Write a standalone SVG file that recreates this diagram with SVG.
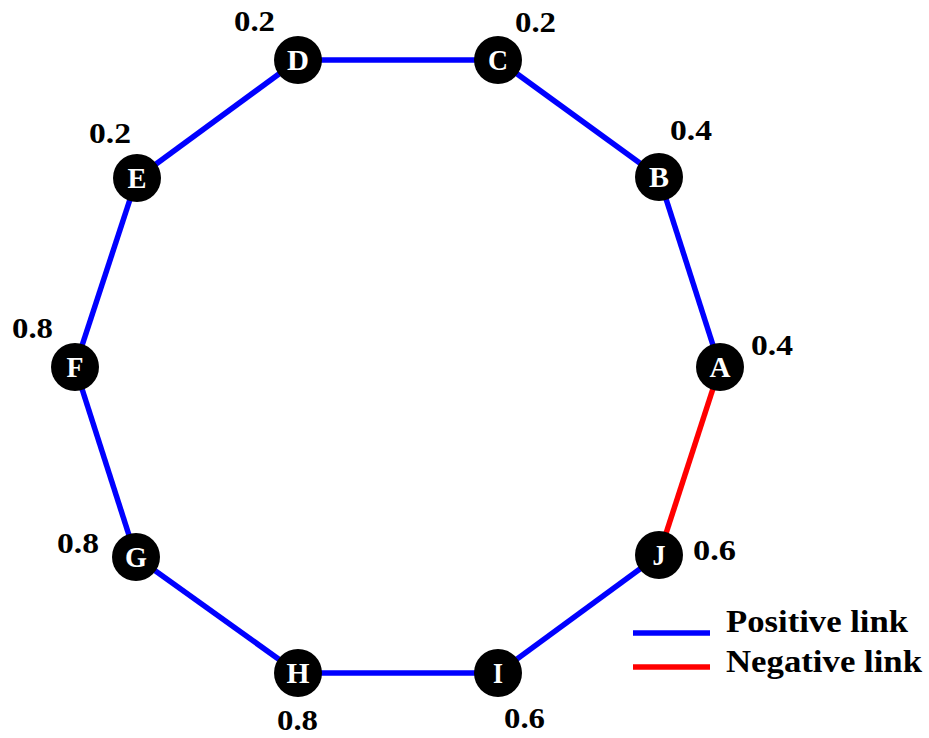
<svg xmlns="http://www.w3.org/2000/svg" width="929" height="738" viewBox="0 0 929 738">
<style>
.n circle{fill:#000}
.n text{fill:#fff;font-family:"Liberation Serif","Times New Roman",serif;font-weight:bold;font-size:29px;text-anchor:middle}
.lbl{fill:#000;font-family:"Liberation Serif","Times New Roman",serif;font-weight:bold;font-size:30px}
.pos{stroke:#0000ff;stroke-width:5.5;fill:none}
.neg{stroke:#ff0000;stroke-width:5.5;fill:none}
.leg{fill:#000;font-family:"Liberation Serif","Times New Roman",serif;font-weight:bold;font-size:32px}
</style>
<rect width="929" height="738" fill="#fff"/>
<g id="connectors">
<line class="pos" x1="720" y1="367" x2="659" y2="177"/>
<line class="pos" x1="659" y1="177" x2="498" y2="60"/>
<line class="pos" x1="498" y1="60" x2="298" y2="60"/>
<line class="pos" x1="298" y1="60" x2="137" y2="178"/>
<line class="pos" x1="137" y1="178" x2="75" y2="367"/>
<line class="pos" x1="75" y1="367" x2="136" y2="557"/>
<line class="pos" x1="136" y1="557" x2="298" y2="673"/>
<line class="pos" x1="298" y1="673" x2="498" y2="673"/>
<line class="pos" x1="498" y1="673" x2="659" y2="555"/>
<line class="neg" x1="659" y1="555" x2="720" y2="367"/>
</g>
<g id="A" class="n"><circle cx="720" cy="367" r="24"/><text x="720" y="377" textLength="21" lengthAdjust="spacingAndGlyphs">A</text></g>
<g id="B" class="n"><circle cx="659" cy="177" r="24"/><text x="659" y="187" textLength="20" lengthAdjust="spacingAndGlyphs">B</text></g>
<g id="C" class="n"><circle cx="498" cy="60" r="24"/><text x="498" y="70" textLength="20" lengthAdjust="spacingAndGlyphs">C</text></g>
<g id="D" class="n"><circle cx="298" cy="60" r="24"/><text x="298" y="70" textLength="22" lengthAdjust="spacingAndGlyphs">D</text></g>
<g id="E" class="n"><circle cx="137" cy="178" r="24"/><text x="137" y="188" textLength="19" lengthAdjust="spacingAndGlyphs">E</text></g>
<g id="F" class="n"><circle cx="75" cy="367" r="24"/><text x="75" y="377" textLength="17" lengthAdjust="spacingAndGlyphs">F</text></g>
<g id="G" class="n"><circle cx="136" cy="557" r="24"/><text x="136" y="567" textLength="22" lengthAdjust="spacingAndGlyphs">G</text></g>
<g id="H" class="n"><circle cx="298" cy="673" r="24"/><text x="298" y="683" textLength="23" lengthAdjust="spacingAndGlyphs">H</text></g>
<g id="I" class="n"><circle cx="498" cy="673" r="24"/><text x="498" y="683" textLength="10" lengthAdjust="spacingAndGlyphs">I</text></g>
<g id="J" class="n"><circle cx="659" cy="555" r="24"/><text x="659" y="565" textLength="13" lengthAdjust="spacingAndGlyphs">J</text></g>
<g id="labels">
<text class="lbl" x="751" y="355" textLength="42" lengthAdjust="spacingAndGlyphs">0.4</text>
<text class="lbl" x="670" y="140" textLength="42" lengthAdjust="spacingAndGlyphs">0.4</text>
<text class="lbl" x="515" y="32" textLength="41" lengthAdjust="spacingAndGlyphs">0.2</text>
<text class="lbl" x="234" y="31" textLength="41" lengthAdjust="spacingAndGlyphs">0.2</text>
<text class="lbl" x="89" y="143" textLength="42" lengthAdjust="spacingAndGlyphs">0.2</text>
<text class="lbl" x="12" y="338" textLength="41" lengthAdjust="spacingAndGlyphs">0.8</text>
<text class="lbl" x="57" y="553" textLength="42" lengthAdjust="spacingAndGlyphs">0.8</text>
<text class="lbl" x="277" y="730" textLength="41" lengthAdjust="spacingAndGlyphs">0.8</text>
<text class="lbl" x="504" y="728" textLength="41" lengthAdjust="spacingAndGlyphs">0.6</text>
<text class="lbl" x="693" y="560" textLength="43" lengthAdjust="spacingAndGlyphs">0.6</text>
</g>
<g id="legend">
<line class="pos" x1="633" y1="633" x2="710" y2="633"/>
<line class="neg" x1="633" y1="667" x2="710" y2="667"/>
<text class="leg" x="726" y="632" textLength="182" lengthAdjust="spacingAndGlyphs">Positive link</text>
<text class="leg" x="726" y="672" textLength="196" lengthAdjust="spacingAndGlyphs">Negative link</text>
</g>
</svg>
